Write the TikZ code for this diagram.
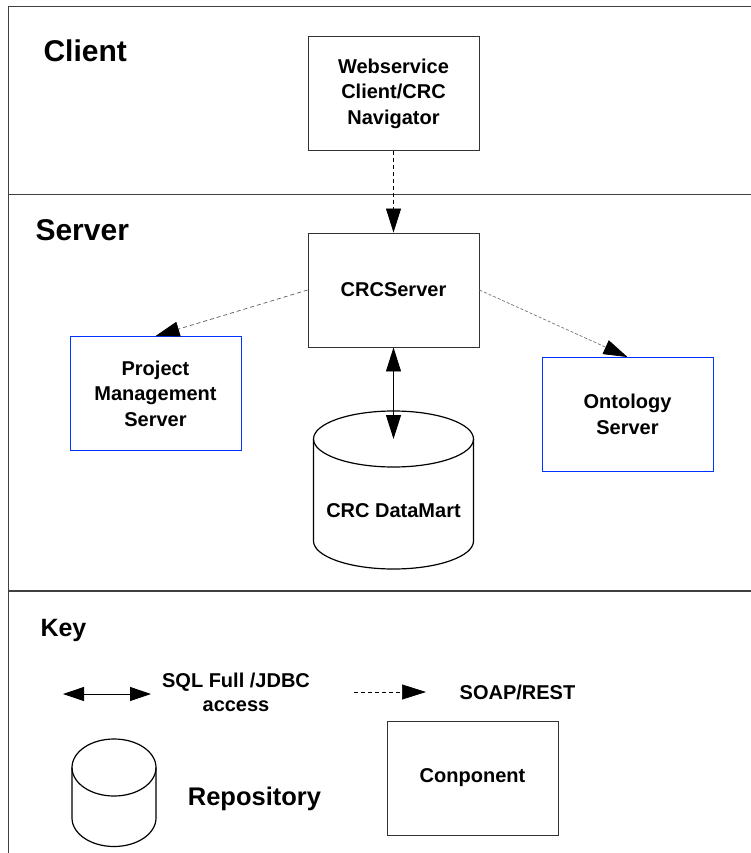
\documentclass[tikz,border=0pt]{standalone}
\usepackage{fontspec}
\setmainfont{Liberation Sans}
\usetikzlibrary{positioning,
                arrows.meta,
                calc}

\begin{document}
\begin{tikzpicture}
[x=1pt,y=-1pt,on grid,
 >={Triangle[length=24pt,width=15pt,color=black]},
 every node/.style={font=\bfseries\fontsize{20}{25.5}\selectfont,align=center},
 layer/.style={font=\bfseries\fontsize{30}{36}\selectfont,anchor=base west},
 frame/.style={draw=black!75,line width=1.2pt},
 part/.style={draw=black!80,line width=0.9pt,minimum width=171pt,minimum height=114pt,inner sep=0pt},
 blue part/.style={part,draw=blue!80!cyan},
 can/.style={draw=black,line width=1.2pt},
 soap/.style={->,dash pattern=on 4pt off 3pt,line width=0.7pt},
 sql/.style={<->,line width=0.9pt}]

\useasboundingbox (0,0) rectangle (751,853);

% frame and layers
\draw [frame] (751,6.5) -- (8.5,6.5) -- (8.5,853);
\draw [frame] (8.5,194.5) -- (751,194.5);
\draw [frame] (8.5,591) -- (751,591);

\node [layer] (client) at (40,62) {Client};
\node [layer] (server) at (32,240) {Server};
\node [layer,font=\bfseries\fontsize{25}{30}\selectfont] (key) at (37,636) {Key};

% components
\node [part] (web) at (393.5,93.5) {Webservice\\Client/CRC\\Navigator};
\node [part] (crc) [below=196.5pt of web] {CRCServer};
\node [blue part] (pm) [below left=103.5pt and 238pt of crc] {Project\\Management\\Server};
\node [blue part] (onto) [below right=124.5pt and 234pt of crc] {Ontology\\Server};

% datamart
\coordinate (mart top) at (393.5,439);
\draw [can] (mart top) ellipse [x radius=80,y radius=28];
\draw [can] ($(mart top)+(-80,0)$) -- ++(0,102)
  arc [start angle=180,end angle=0,x radius=80,y radius=28] -- ++(0,-102);
\node (mart) at (393.5,511) {CRC DataMart};

% connectors
\draw [soap] (web.south) -- (crc.north);
\draw [soap,draw=black!65] (crc.west) -- (pm.north);
\draw [soap,draw=black!55,dash pattern=on 3pt off 2pt] (crc.east) -- (onto.north);
\draw [sql] (crc.south) -- (mart top);

% key
\coordinate (sql a) at (63,694);
\coordinate (sql b) at (151,694);
\draw [sql,>={Triangle[length=21pt,width=14pt]}] (sql a) -- (sql b);
\node [font=\bfseries\fontsize{20}{24}\selectfont] (sql) at (236,692) {SQL Full /JDBC\\access};

\coordinate (soap a) at (354,692);
\coordinate (soap b) at (426,692);
\draw [soap] (soap a) -- (soap b);
\node (soap) at (517.5,692.5) {SOAP/REST};

\coordinate (repo top) at (114,767.5);
\draw [can] (repo top) ellipse [x radius=42,y radius=28.5];
\draw [can] ($(repo top)+(-42,0)$) -- ++(0,50.5)
  arc [start angle=180,end angle=0,x radius=42,y radius=28.5] -- ++(0,-50.5);
\node [anchor=base,font=\bfseries\fontsize{25.5}{30}\selectfont] (repo) at (254.5,805) {Repository};

\node [part] (comp) at (472.5,778) {Conponent};
\end{tikzpicture}
\end{document}
